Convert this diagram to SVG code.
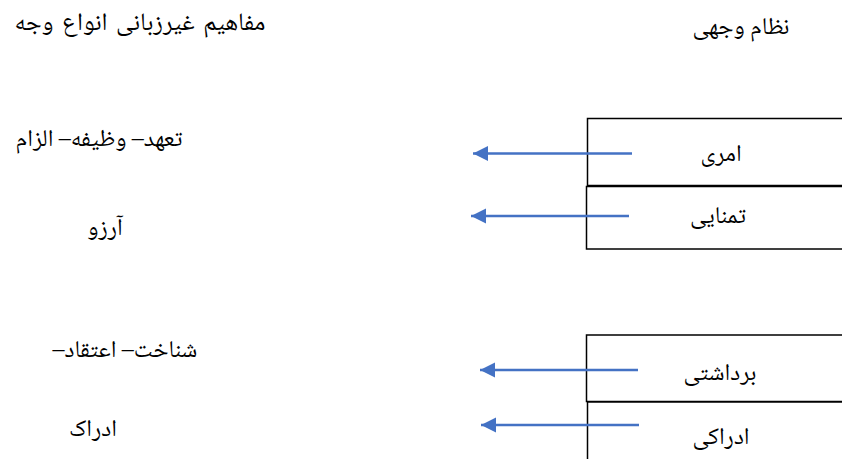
<svg xmlns="http://www.w3.org/2000/svg" width="842" height="459" viewBox="0 0 842 459">
  <defs>
    <marker id="arrowhead" markerWidth="16" markerHeight="16" refX="15" refY="7.5" orient="auto" markerUnits="userSpaceOnUse">
      <path d="M0,0 L15,7.5 L0,15 Z" fill="#4472c4"/>
    </marker>
  </defs>
  <style>
    text { font-family: "Noto Naskh Arabic", "Noto Serif Arabic", "Liberation Serif", "DejaVu Sans", serif; font-size: 24px; fill: #000; direction: rtl; unicode-bidi: embed; text-anchor: middle; }
    .title { font-size: 25px; word-spacing: 3px; }
    .box { fill: #fff; stroke: #000; stroke-width: 1.5; }
    .conn { stroke: #4472c4; stroke-width: 2.5; fill: none; marker-end: url(#arrowhead); }
  </style>
  <rect width="842" height="459" fill="#fff"/>

  <!-- column headings -->
  <g id="heading-concepts"><text class="title" x="140" y="30">مفاهیم غیرزبانی انواع وجه</text></g>
  <g id="heading-modal-system"><text x="741" y="34">نظام وجهی</text></g>

  <!-- modal system boxes (open at the right edge) -->
  <g id="node-amri">
    <rect class="box" x="587.5" y="118.5" width="270" height="67"/>
    <text x="721" y="161">امری</text>
  </g>
  <g id="node-tamannayi">
    <rect class="box" x="586.5" y="186.5" width="270" height="62.5"/>
    <text x="718" y="223">تمنایی</text>
  </g>
  <g id="node-bardashti">
    <rect class="box" x="586.5" y="335" width="270" height="66.5"/>
    <text x="720" y="380">برداشتی</text>
  </g>
  <g id="node-edraki">
    <rect class="box" x="587.5" y="402" width="270" height="70"/>
    <text x="721" y="444">ادراکی</text>
  </g>

  <!-- non-linguistic concepts -->
  <g id="concept-obligation"><text x="99" y="146">تعهد– وظیفه– الزام</text></g>
  <g id="concept-wish"><text x="105" y="235">آرزو</text></g>
  <g id="concept-belief"><text x="125" y="357">شناخت– اعتقاد–</text></g>
  <g id="concept-perception"><text x="93" y="436">ادراک</text></g>

  <!-- connectors -->
  <g id="connectors">
    <line class="conn" x1="632" y1="153.5" x2="473" y2="153.5"/>
    <line class="conn" x1="629" y1="216" x2="471" y2="216"/>
    <line class="conn" x1="638" y1="370" x2="480" y2="370"/>
    <line class="conn" x1="639" y1="425" x2="481" y2="425"/>
  </g>
</svg>
